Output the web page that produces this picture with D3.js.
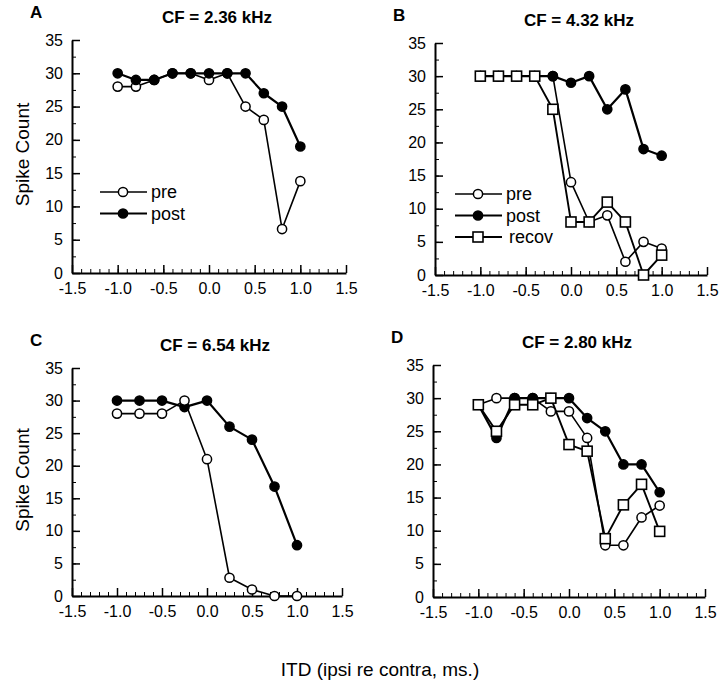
<!DOCTYPE html>
<html>
<head>
<meta charset="utf-8">
<script src="https://cdn.jsdelivr.net/npm/d3@7"></script>
<style>
  body { margin: 0; background: #fff; }
  svg text { font-family: "Liberation Sans", Arial, Helvetica, sans-serif; fill: #000; }
</style>
</head>
<body>
<svg id="fig" width="720" height="686"></svg>
<script>
// ITD values (ms)
var itd = [-1.0, -0.8, -0.6, -0.4, -0.2, 0.0, 0.2, 0.4, 0.6, 0.8, 1.0];
var itdC = [-1.0, -0.75, -0.5, -0.25, 0.0, 0.25, 0.5, 0.75, 1.0];

// spike counts
var preA  = [28, 28, 29, 30, 30, 29, 30, 25, 23, 6.6, 13.8];
var postA = [30, 29, 29, 30, 30, 30, 30, 30, 27, 25, 19];

var preB   = [30, 30, 30, 30, 30, 14, 8, 9, 2, 5, 4];
var postB  = [30, 30, 30, 30, 30, 29, 30, 25, 28, 19, 18];
var recovB = [30, 30, 30, 30, 25, 8, 8, 11, 8, 0, 3];

var preC  = [28, 28, 28, 30, 21, 2.8, 1, 0, 0];
var postC = [30, 30, 30, 29, 30, 26, 24, 16.8, 7.8];

var preD   = [29, 30, 30, 30, 28, 28, 24, 7.8, 7.8, 12, 13.8];
var postD  = [29, 24, 30, 30, 30, 30, 27, 25, 20, 20, 15.8];
var recovD = [29, 25, 29, 29, 30, 23, 22, 8.8, 13.9, 17, 9.9];

var xTicks = [-1.5, -1.0, -0.5, 0.0, 0.5, 1.0, 1.5];
var yTicks = [0, 5, 10, 15, 20, 25, 30, 35];
var titles = ["CF = 2.36 kHz", "CF = 4.32 kHz", "CF = 6.54 kHz", "CF = 2.80 kHz"];
var letters = ["A", "B", "C", "D"];
var legendNames = ["pre", "post", "recov"];

var svg = d3.select("#fig");

// panel frames (pixel boxes of the plot area)
var panels = [
  {x0: 72,  x1: 346, y0: 273, y1: 40,  title: titles[0], letter: letters[0], xs: itd,
   series: [{v: preA, type: "open"}, {v: postA, type: "filled"}], legend: true, ylab: true},
  {x0: 435, x1: 707, y0: 275, y1: 43,  title: titles[1], letter: letters[1], xs: itd,
   series: [{v: preB, type: "open"}, {v: postB, type: "filled"}, {v: recovB, type: "square"}], legend: true, ylab: false},
  {x0: 72,  x1: 342, y0: 596, y1: 368, title: titles[2], letter: letters[2], xs: itdC,
   series: [{v: postC, type: "filled"}, {v: preC, type: "open"}], legend: false, ylab: true},
  {x0: 433, x1: 705, y0: 597, y1: 365, title: titles[3], letter: letters[3], xs: itd,
   series: [{v: preD, type: "open"}, {v: postD, type: "filled"}, {v: recovD, type: "square"}], legend: false, ylab: false}
];

function marker(g, type, cx, cy) {
  if (type == "square") {
    g.append("rect")
      .attr("x", cx - 5).attr("y", cy - 5)
      .attr("width", 10).attr("height", 10)
      .attr("fill", "#fff").attr("stroke", "#000").attr("stroke-width", 1.6);
  } else {
    g.append("circle")
      .attr("cx", cx).attr("cy", cy).attr("r", 4.6)
      .attr("fill", type == "filled" ? "#000" : "#fff")
      .attr("stroke", "#000").attr("stroke-width", 1.5);
  }
}

function lineWidth(type) {
  if (type == "filled") return 2.2;
  if (type == "square") return 1.9;
  return 1.6;
}

panels.forEach(function(p) {
  var x = d3.scaleLinear().domain([-1.5, 1.5]).range([p.x0, p.x1]);
  var y = d3.scaleLinear().domain([0, 35]).range([p.y0, p.y1]);
  var g = svg.append("g");

  // minor ticks first
  g.append("g").attr("transform", "translate(0," + p.y0 + ")")
    .call(d3.axisBottom(x).tickValues(d3.range(-15, 16).map(function(d) { return d / 10; }))
      .tickSize(-4).tickSizeOuter(0).tickFormat(""))
    .call(function(a) { a.select(".domain").remove(); });
  g.append("g").attr("transform", "translate(" + p.x0 + ",0)")
    .call(d3.axisLeft(y).tickValues(d3.range(0, 36, 2.5)).tickSize(-4).tickSizeOuter(0).tickFormat(""))
    .call(function(a) { a.select(".domain").remove(); });

  // major ticks + labels
  var xa = g.append("g").attr("transform", "translate(0," + p.y0 + ")")
    .call(d3.axisBottom(x).tickValues(xTicks).tickSize(-8).tickSizeOuter(0).tickPadding(10)
      .tickFormat(function(d) { return d.toFixed(1); }));
  var ya = g.append("g").attr("transform", "translate(" + p.x0 + ",0)")
    .call(d3.axisLeft(y).tickValues(yTicks).tickSize(-8).tickSizeOuter(0).tickPadding(9));
  [xa, ya].forEach(function(a) {
    a.selectAll("text").style("font-size", "16px");
    a.selectAll("line").attr("stroke-width", 1.5);
    a.select(".domain").attr("stroke-width", 2);
  });
  g.selectAll(".tick line").attr("stroke", "#000");

  // series
  var line = d3.line().x(function(d, i) { return x(p.xs[i]); }).y(function(d) { return y(d); });
  p.series.forEach(function(s) {
    g.append("path").datum(s.v)
      .attr("d", line)
      .attr("fill", "none").attr("stroke", "#000")
      .attr("stroke-width", lineWidth(s.type)).attr("stroke-linejoin", "round");
  });
  p.series.forEach(function(s) {
    s.v.forEach(function(d, i) { marker(g, s.type, x(p.xs[i]), y(d)); });
  });

  // legend
  if (p.legend) {
    p.series.forEach(function(s, i) {
      var ly = p.y0 - 81 + i * 21.5;
      var lx = p.x0 + (p.series.length == 3 ? 20 : 28);
      g.append("line").attr("x1", lx).attr("x2", lx + 47).attr("y1", ly).attr("y2", ly)
        .attr("stroke", "#000").attr("stroke-width", lineWidth(s.type));
      marker(g, s.type, lx + 23, ly);
      g.append("text").attr("x", lx + 51 + (s.type == "square" ? 3 : 0)).attr("y", ly + 6)
        .style("font-size", "18px").text(legendNames[i]);
    });
  }

  // title and panel letter
  g.append("text").attr("x", (p.x0 + p.x1) / 2 + 8).attr("y", p.y1 - 17)
    .attr("text-anchor", "middle").style("font-size", "17px").style("font-weight", "bold")
    .text(p.title);
  g.append("text").attr("x", p.x0 - 42).attr("y", p.y1 - 22)
    .style("font-size", "17px").style("font-weight", "bold").text(p.letter);

  if (p.ylab) {
    g.append("text")
      .attr("transform", "translate(" + (p.x0 - 43) + "," + ((p.y0 + p.y1) / 2 - 2) + ") rotate(-90)")
      .attr("text-anchor", "middle").style("font-size", "19px").text("Spike Count");
  }
});

svg.append("text").attr("x", 380).attr("y", 676).attr("text-anchor", "middle")
  .style("font-size", "19px").text("ITD (ipsi re contra, ms.)");
</script>
</body>
</html>
